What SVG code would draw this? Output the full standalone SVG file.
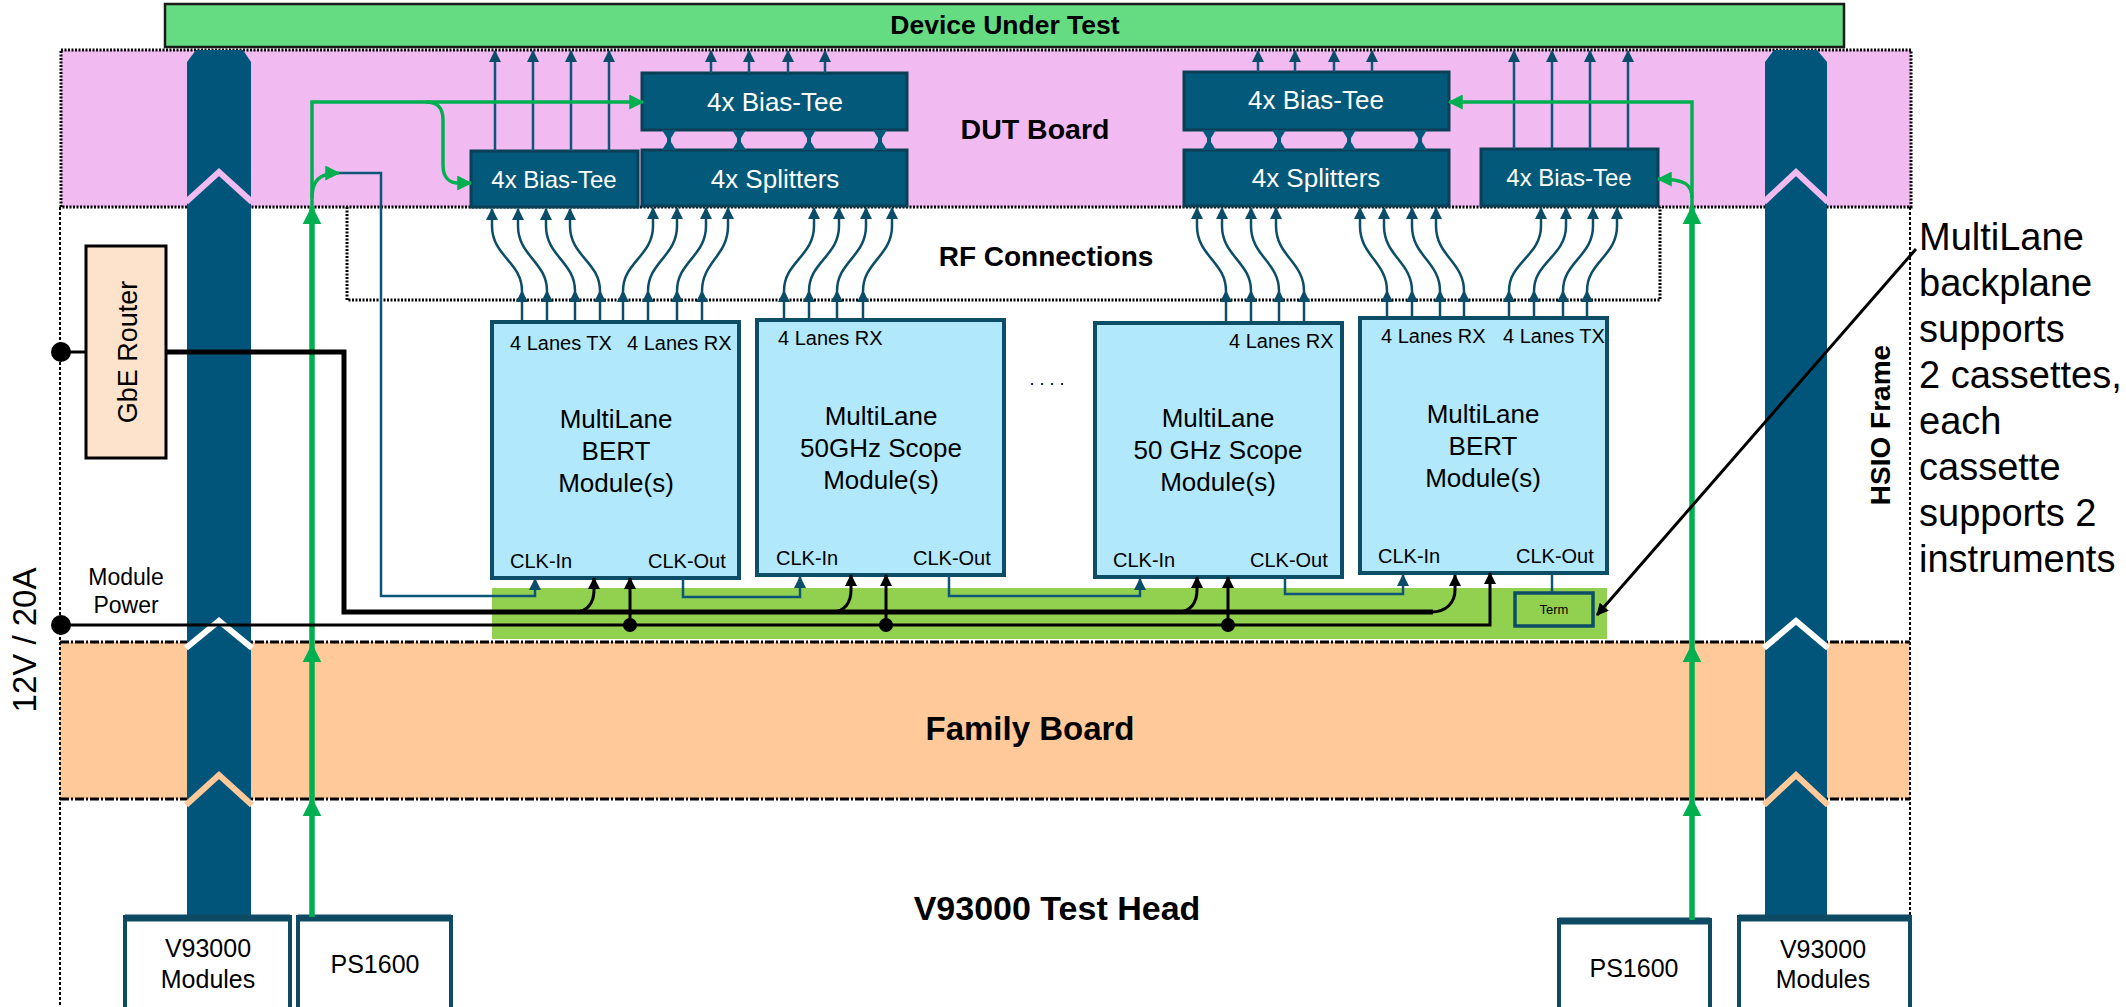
<svg xmlns="http://www.w3.org/2000/svg" width="2126" height="1007" viewBox="0 0 2126 1007">
<style>
text{font-family:"Liberation Sans",Arial,sans-serif;fill:#000}
.b{font-weight:bold}
.w{fill:#fff}
.box{fill:#03597A;stroke:#0B3F55;stroke-width:3}
.mod{fill:#B2E8FB;stroke:#0E4D66;stroke-width:4}
.bus{fill:#02557A}
.band{fill:none;stroke-width:6;stroke-linejoin:miter}
.lane{fill:none;stroke:#0C4D68;stroke-width:2.5}
.up{fill:none;stroke:#0D5677;stroke-width:2.5}
.clk{fill:none;stroke:#0D5677;stroke-width:2.5}
.gT{fill:none;stroke:#00B050;stroke-width:5.5}
.gt{fill:none;stroke:#00B050;stroke-width:3.5}
.blk{fill:none;stroke:#000;stroke-width:3}
.blkT{fill:none;stroke:#000;stroke-width:5}
.dot{fill:none;stroke:#000;stroke-width:3;stroke-dasharray:2,1.5}
.frame{fill:none;stroke:#000;stroke-width:2;stroke-dasharray:3,2}
.dd{fill:none;stroke:#000;stroke-width:3;stroke-dasharray:9,2,2,2}
.bot{fill:#fff;stroke:#0E4A63;stroke-width:4}
.m19{font-size:20px}
.m26{font-size:26px}
</style>
<defs>
<marker id="aT" viewBox="0 0 12 12" markerWidth="12" markerHeight="12" refX="11" refY="6" orient="auto" markerUnits="userSpaceOnUse"><path d="M0,0 L12,6 L0,12 z" fill="#0B4D68"/></marker>
<marker id="aK" viewBox="0 0 12 12" markerWidth="13" markerHeight="12" refX="11" refY="6" orient="auto" markerUnits="userSpaceOnUse"><path d="M0,0 L12,6 L0,12 z" fill="#000"/></marker>
<marker id="aG" viewBox="0 0 12 12" markerWidth="19" markerHeight="20" refX="11" refY="6" orient="auto" markerUnits="userSpaceOnUse"><path d="M0,0 L12,6 L0,12 z" fill="#00B050"/></marker>
<marker id="ag" viewBox="0 0 12 12" markerWidth="15" markerHeight="15" refX="11" refY="6" orient="auto" markerUnits="userSpaceOnUse"><path d="M0,0 L12,6 L0,12 z" fill="#00B050"/></marker>
</defs>

<g id="regions">
<rect x="61" y="50" width="1850" height="157" fill="#F1BBF1"/>
<rect x="60" y="642" width="1850" height="157" fill="#FFC999"/>
<path class="dot" d="M61,50 H1911 V207 H61 Z"/>
<path class="frame" d="M60,207 V1007 M1910,207 V1007"/>
<path class="dd" d="M60,642 H1910 M60,799 H1910"/>
<rect x="492" y="588" width="1115" height="51" fill="#92D050"/>
<path class="dot" d="M347,207 V300 H1660 V207"/>
</g>

<g id="buses">
<path class="bus" d="M196,50 H243 L251,62 V917 H187 V62 Z"/>
<path class="bus" d="M1774,50 H1817 L1827,62 V917 H1765 V62 Z"/>
<polyline class="band" stroke="#F1BBF1" points="186,202 219,172 252,202"/>
<polyline class="band" stroke="#F1BBF1" points="1764,202 1796,172 1828,202"/>
<polyline class="band" stroke="#FFFFFF" points="186,648 219,621 252,648"/>
<polyline class="band" stroke="#FFFFFF" points="1764,648 1796,621 1828,648"/>
<polyline class="band" stroke="#FFC999" points="186,805 219,775 252,805"/>
<polyline class="band" stroke="#FFC999" points="1764,805 1796,775 1828,805"/>
</g>

<g id="node-dut">
<rect x="165" y="4" width="1679" height="43" fill="#66DC82" stroke="#1A1A1A" stroke-width="2.5"/>
<text x="1005" y="34" class="b" font-size="26.5" text-anchor="middle">Device Under Test</text>
</g>

<g id="label-dut-board"><text x="1035" y="139" class="b" font-size="28.5" text-anchor="middle">DUT Board</text></g>
<g id="label-rf"><text x="1046" y="266" class="b" font-size="28" text-anchor="middle">RF Connections</text></g>
<g id="label-family"><text x="1030" y="740" class="b" font-size="33" text-anchor="middle">Family Board</text></g>
<g id="label-testhead"><text x="1057" y="920" class="b" font-size="34" text-anchor="middle">V93000 Test Head</text></g>
<g id="label-hsio"><text transform="translate(1890,425) rotate(-90)" class="b" font-size="28" text-anchor="middle">HSIO Frame</text></g>
<g id="label-12v"><text transform="translate(36,640) rotate(-90)" font-size="33" text-anchor="middle">12V / 20A</text></g>
<g id="label-power"><text x="126" y="585" font-size="23" text-anchor="middle">Module</text><text x="126" y="613" font-size="23" text-anchor="middle">Power</text></g>

<g id="node-gbe">
<rect x="86" y="246" width="80" height="212" fill="#FDE3CB" stroke="#000" stroke-width="3"/>
<text transform="translate(137,352) rotate(-90)" font-size="27" text-anchor="middle">GbE Router</text>
</g>

<g id="node-bt-l-small"><rect class="box" x="471" y="151" width="167" height="56"/><text x="554" y="188" class="w" font-size="24" text-anchor="middle">4x Bias-Tee</text></g>
<g id="node-bt-l"><rect class="box" x="642" y="73" width="265" height="57"/><text x="775" y="111" class="w" font-size="26" text-anchor="middle">4x Bias-Tee</text></g>
<g id="node-sp-l"><rect class="box" x="642" y="150" width="265" height="56"/><text x="775" y="188" class="w" font-size="26" text-anchor="middle">4x Splitters</text></g>
<g id="node-bt-r"><rect class="box" x="1184" y="72" width="265" height="58"/><text x="1316" y="109" class="w" font-size="26" text-anchor="middle">4x Bias-Tee</text></g>
<g id="node-sp-r"><rect class="box" x="1184" y="150" width="265" height="56"/><text x="1316" y="187" class="w" font-size="26" text-anchor="middle">4x Splitters</text></g>
<g id="node-bt-r-small"><rect class="box" x="1481" y="149" width="177" height="57"/><text x="1569" y="186" class="w" font-size="24" text-anchor="middle">4x Bias-Tee</text></g>

<g id="node-m1">
<rect class="mod" x="492" y="322" width="247" height="256"/>
<text x="510" y="350" class="m19">4 Lanes TX</text><text x="627" y="350" class="m19">4 Lanes RX</text>
<text x="616" y="428" class="m26" text-anchor="middle">MultiLane</text><text x="616" y="460" class="m26" text-anchor="middle">BERT</text><text x="616" y="492" class="m26" text-anchor="middle">Module(s)</text>
<text x="510" y="568" class="m19">CLK-In</text><text x="648" y="568" class="m19">CLK-Out</text>
</g>
<g id="node-m2">
<rect class="mod" x="757" y="320" width="247" height="255"/>
<text x="778" y="345" class="m19">4 Lanes RX</text>
<text x="881" y="425" class="m26" text-anchor="middle">MultiLane</text><text x="881" y="457" class="m26" text-anchor="middle">50GHz Scope</text><text x="881" y="489" class="m26" text-anchor="middle">Module(s)</text>
<text x="776" y="565" class="m19">CLK-In</text><text x="913" y="565" class="m19">CLK-Out</text>
</g>
<g id="node-m3">
<rect class="mod" x="1095" y="323" width="247" height="254"/>
<text x="1229" y="348" class="m19">4 Lanes RX</text>
<text x="1218" y="427" class="m26" text-anchor="middle">MultiLane</text><text x="1218" y="459" class="m26" text-anchor="middle">50 GHz Scope</text><text x="1218" y="491" class="m26" text-anchor="middle">Module(s)</text>
<text x="1113" y="567" class="m19">CLK-In</text><text x="1250" y="567" class="m19">CLK-Out</text>
</g>
<g id="node-m4">
<rect class="mod" x="1360" y="318" width="247" height="255"/>
<text x="1381" y="343" class="m19">4 Lanes RX</text><text x="1503" y="343" class="m19">4 Lanes TX</text>
<text x="1483" y="423" class="m26" text-anchor="middle">MultiLane</text><text x="1483" y="455" class="m26" text-anchor="middle">BERT</text><text x="1483" y="487" class="m26" text-anchor="middle">Module(s)</text>
<text x="1378" y="563" class="m19">CLK-In</text><text x="1516" y="563" class="m19">CLK-Out</text>
</g>
<g id="label-dots"><text x="1047" y="385" font-size="18" text-anchor="middle">. . . .</text></g>
<g id="node-term"><rect x="1515" y="593" width="78" height="33" fill="#92D050" stroke="#0E4D66" stroke-width="3.5"/><text x="1554" y="614" font-size="13" text-anchor="middle">Term</text></g>

<g id="node-v93k-l"><rect class="bot" x="125" y="917" width="165" height="100"/><path d="M125,918 H290" stroke="#0E4A63" stroke-width="7"/><text x="208" y="957" font-size="25" text-anchor="middle">V93000</text><text x="208" y="988" font-size="25" text-anchor="middle">Modules</text></g>
<g id="node-ps-l"><rect class="bot" x="298" y="917" width="153" height="100"/><path d="M298,918 H451" stroke="#0E4A63" stroke-width="7"/><text x="375" y="973" font-size="25" text-anchor="middle">PS1600</text></g>
<g id="node-ps-r"><rect class="bot" x="1559" y="920" width="151" height="100"/><path d="M1559,921 H1710" stroke="#0E4A63" stroke-width="7"/><text x="1634" y="977" font-size="25" text-anchor="middle">PS1600</text></g>
<g id="node-v93k-r"><rect class="bot" x="1739" y="917" width="171" height="100"/><path d="M1739,918 H1910" stroke="#0E4A63" stroke-width="7"/><text x="1823" y="958" font-size="25" text-anchor="middle">V93000</text><text x="1823" y="988" font-size="25" text-anchor="middle">Modules</text></g>

<g id="label-note" font-size="38">
<text x="1919" y="250">MultiLane</text><text x="1919" y="296">backplane</text><text x="1919" y="342">supports</text><text x="1919" y="388">2 cassettes,</text><text x="1919" y="434">each</text><text x="1919" y="480">cassette</text><text x="1919" y="526">supports 2</text><text x="1919" y="572">instruments</text>
</g>

<g id="connectors">
<g fill="#03597A">
<path d="M662,130 H676 L671,138 V142 L676,150 H662 L667,142 V138 Z"/>
<path d="M732,130 H746 L741,138 V142 L746,150 H732 L737,142 V138 Z"/>
<path d="M802,130 H816 L811,138 V142 L816,150 H802 L807,142 V138 Z"/>
<path d="M873,130 H887 L882,138 V142 L887,150 H873 L878,142 V138 Z"/>
<path d="M1202,130 H1216 L1211,138 V142 L1216,150 H1202 L1207,142 V138 Z"/>
<path d="M1272,130 H1286 L1281,138 V142 L1286,150 H1272 L1277,142 V138 Z"/>
<path d="M1342,130 H1356 L1351,138 V142 L1356,150 H1342 L1347,142 V138 Z"/>
<path d="M1413,130 H1427 L1422,138 V142 L1427,150 H1413 L1418,142 V138 Z"/>
</g>
<g>
<path class="up" marker-end="url(#aT)" d="M495,151 V51"/><path class="up" marker-end="url(#aT)" d="M533,151 V51"/><path class="up" marker-end="url(#aT)" d="M571,151 V51"/><path class="up" marker-end="url(#aT)" d="M609,151 V51"/>
<path class="up" marker-end="url(#aT)" d="M711,73 V51"/><path class="up" marker-end="url(#aT)" d="M749,73 V51"/><path class="up" marker-end="url(#aT)" d="M788,73 V51"/><path class="up" marker-end="url(#aT)" d="M825,73 V51"/>
<path class="up" marker-end="url(#aT)" d="M1258,72 V51"/><path class="up" marker-end="url(#aT)" d="M1295,72 V51"/><path class="up" marker-end="url(#aT)" d="M1334,72 V51"/><path class="up" marker-end="url(#aT)" d="M1372,72 V51"/>
<path class="up" marker-end="url(#aT)" d="M1514,149 V51"/><path class="up" marker-end="url(#aT)" d="M1552,149 V51"/><path class="up" marker-end="url(#aT)" d="M1590,149 V51"/><path class="up" marker-end="url(#aT)" d="M1628,149 V51"/>
</g>
<g>
<path class="lane" marker-end="url(#aT)" d="M522,322 V291"/><path class="lane" marker-end="url(#aT)" d="M547,322 V291"/><path class="lane" marker-end="url(#aT)" d="M575,322 V291"/><path class="lane" marker-end="url(#aT)" d="M600,322 V291"/>
<path class="lane" marker-end="url(#aT)" d="M623,322 V291"/><path class="lane" marker-end="url(#aT)" d="M648,322 V291"/><path class="lane" marker-end="url(#aT)" d="M677,322 V291"/><path class="lane" marker-end="url(#aT)" d="M702,322 V291"/>
<path class="lane" marker-end="url(#aT)" d="M784,320 V291"/><path class="lane" marker-end="url(#aT)" d="M809,320 V291"/><path class="lane" marker-end="url(#aT)" d="M837,320 V291"/><path class="lane" marker-end="url(#aT)" d="M863,320 V291"/>
<path class="lane" marker-end="url(#aT)" d="M1226,323 V291"/><path class="lane" marker-end="url(#aT)" d="M1251,323 V291"/><path class="lane" marker-end="url(#aT)" d="M1279,323 V291"/><path class="lane" marker-end="url(#aT)" d="M1304,323 V291"/>
<path class="lane" marker-end="url(#aT)" d="M1387,318 V291"/><path class="lane" marker-end="url(#aT)" d="M1412,318 V291"/><path class="lane" marker-end="url(#aT)" d="M1440,318 V291"/><path class="lane" marker-end="url(#aT)" d="M1464,318 V291"/>
<path class="lane" marker-end="url(#aT)" d="M1509,318 V291"/><path class="lane" marker-end="url(#aT)" d="M1534,318 V291"/><path class="lane" marker-end="url(#aT)" d="M1563,318 V291"/><path class="lane" marker-end="url(#aT)" d="M1587,318 V291"/>
</g>
<g>
<path class="lane" marker-end="url(#aT)" d="M522,291 C522,262 492,256 492,226 V209"/>
<path class="lane" marker-end="url(#aT)" d="M547,291 C547,262 518,256 518,226 V209"/>
<path class="lane" marker-end="url(#aT)" d="M575,291 C575,262 546,256 546,226 V209"/>
<path class="lane" marker-end="url(#aT)" d="M600,291 C600,262 570,256 570,226 V209"/>
<path class="lane" marker-end="url(#aT)" d="M623,291 C623,262 653,256 653,226 V208"/>
<path class="lane" marker-end="url(#aT)" d="M648,291 C648,262 677,256 677,226 V208"/>
<path class="lane" marker-end="url(#aT)" d="M677,291 C677,262 706,256 706,226 V208"/>
<path class="lane" marker-end="url(#aT)" d="M702,291 C702,262 728,256 728,226 V208"/>
<path class="lane" marker-end="url(#aT)" d="M784,291 C784,262 814,256 814,226 V208"/>
<path class="lane" marker-end="url(#aT)" d="M809,291 C809,262 839,256 839,226 V208"/>
<path class="lane" marker-end="url(#aT)" d="M837,291 C837,262 866,256 866,226 V208"/>
<path class="lane" marker-end="url(#aT)" d="M863,291 C863,262 892,256 892,226 V208"/>
<path class="lane" marker-end="url(#aT)" d="M1226,291 C1226,262 1197,256 1197,226 V208"/>
<path class="lane" marker-end="url(#aT)" d="M1251,291 C1251,262 1222,256 1222,226 V208"/>
<path class="lane" marker-end="url(#aT)" d="M1279,291 C1279,262 1251,256 1251,226 V208"/>
<path class="lane" marker-end="url(#aT)" d="M1304,291 C1304,262 1276,256 1276,226 V208"/>
<path class="lane" marker-end="url(#aT)" d="M1387,291 C1387,262 1360,256 1360,226 V208"/>
<path class="lane" marker-end="url(#aT)" d="M1412,291 C1412,262 1384,256 1384,226 V208"/>
<path class="lane" marker-end="url(#aT)" d="M1440,291 C1440,262 1412,256 1412,226 V208"/>
<path class="lane" marker-end="url(#aT)" d="M1464,291 C1464,262 1436,256 1436,226 V208"/>
<path class="lane" marker-end="url(#aT)" d="M1509,291 C1509,262 1541,256 1541,226 V208"/>
<path class="lane" marker-end="url(#aT)" d="M1534,291 C1534,262 1566,256 1566,226 V208"/>
<path class="lane" marker-end="url(#aT)" d="M1563,291 C1563,262 1593,256 1593,226 V208"/>
<path class="lane" marker-end="url(#aT)" d="M1587,291 C1587,262 1617,256 1617,226 V208"/>
</g>
<path class="gT" marker-end="url(#aG)" d="M312,917 V799"/>
<path class="gT" marker-end="url(#aG)" d="M312,799 V645"/>
<path class="gT" marker-end="url(#aG)" d="M312,645 V207"/>
<path class="gt" marker-end="url(#ag)" d="M312,207 V102 H643"/>
<path class="gt" marker-end="url(#ag)" d="M426,102 C438,102 443,108 443,120 V165 C443,178 450,183 458,183 H471"/>
<path class="gt" marker-end="url(#ag)" d="M312,198 C312,182 318,173 339,173"/>
<path class="gT" marker-end="url(#aG)" d="M1692,920 V799"/>
<path class="gT" marker-end="url(#aG)" d="M1692,799 V645"/>
<path class="gT" marker-end="url(#aG)" d="M1692,645 V207"/>
<path class="gt" marker-end="url(#ag)" d="M1692,207 V102 H1449"/>
<path class="gt" marker-end="url(#ag)" d="M1692,198 C1692,185 1686,179 1658,179"/>
<path class="clk" stroke-width="2" marker-end="url(#aT)" d="M339,173 H381 V596 H535 V579"/>
<path class="clk" marker-end="url(#aT)" d="M683,578 V597 H800 V577"/>
<path class="clk" marker-end="url(#aT)" d="M949,575 V596 H1140 V579"/>
<path class="clk" marker-end="url(#aT)" d="M1285,577 V594 H1403 V575"/>
<path class="clk" d="M1552,573 V593"/>
<path class="blk" d="M61,352 H86"/>
<path class="blkT" d="M166,352 H344 V612 H1433"/>
<path class="blk" marker-end="url(#aK)" d="M1431,612 C1447,612 1455,602 1455,590 V575"/>
<path class="blk" marker-end="url(#aK)" d="M575,612 C588,612 594,602 594,590 V578"/>
<path class="blk" marker-end="url(#aK)" d="M832,612 C845,612 851,602 851,590 V575"/>
<path class="blk" marker-end="url(#aK)" d="M1178,612 C1191,612 1197,602 1197,590 V577"/>
<path class="blk" marker-end="url(#aK)" d="M61,625 H1490 V573"/>
<path class="blk" marker-end="url(#aK)" d="M630,625 V578"/>
<path class="blk" marker-end="url(#aK)" d="M886,625 V575"/>
<path class="blk" marker-end="url(#aK)" d="M1228,625 V577"/>
<circle cx="630" cy="625" r="7"/><circle cx="886" cy="625" r="7"/><circle cx="1228" cy="625" r="7"/>
<circle cx="61" cy="352" r="10"/><circle cx="61" cy="625" r="10"/>
<path class="blk" marker-end="url(#aK)" d="M1916,249 L1597,615"/>
</g>
</svg>
